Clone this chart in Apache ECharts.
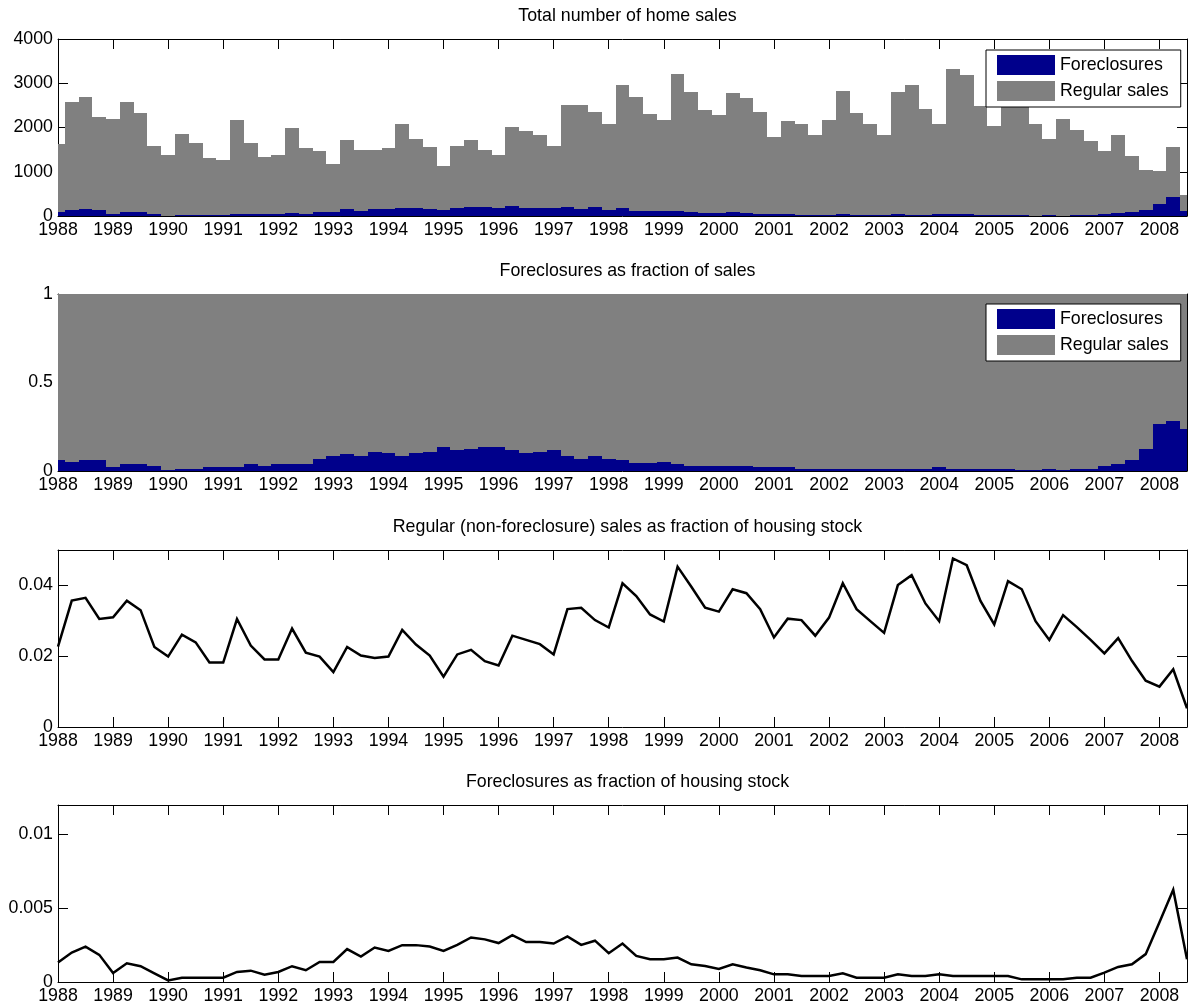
<!DOCTYPE html>
<html>
<head>
<meta charset="utf-8">
<script src="https://cdn.jsdelivr.net/npm/echarts@6/dist/echarts.min.js"></script>
<style>
html,body{margin:0;padding:0;background:#fff;}
#chart{width:1188px;height:1007px;}
</style>
</head>
<body>
<div id="chart"></div>
<script>
// ---------- DATA (quarterly, 1988Q1 .. 2008Q3) ----------
const quarters = [
  1988, 1988.25, 1988.5, 1988.75,
  1989, 1989.25, 1989.5, 1989.75,
  1990, 1990.25, 1990.5, 1990.75,
  1991, 1991.25, 1991.5, 1991.75,
  1992, 1992.25, 1992.5, 1992.75,
  1993, 1993.25, 1993.5, 1993.75,
  1994, 1994.25, 1994.5, 1994.75,
  1995, 1995.25, 1995.5, 1995.75,
  1996, 1996.25, 1996.5, 1996.75,
  1997, 1997.25, 1997.5, 1997.75,
  1998, 1998.25, 1998.5, 1998.75,
  1999, 1999.25, 1999.5, 1999.75,
  2000, 2000.25, 2000.5, 2000.75,
  2001, 2001.25, 2001.5, 2001.75,
  2002, 2002.25, 2002.5, 2002.75,
  2003, 2003.25, 2003.5, 2003.75,
  2004, 2004.25, 2004.5, 2004.75,
  2005, 2005.25, 2005.5, 2005.75,
  2006, 2006.25, 2006.5, 2006.75,
  2007, 2007.25, 2007.5, 2007.75,
  2008, 2008.25, 2008.5
];

const yearTicks = [1988,1989,1990,1991,1992,1993,1994,1995,1996,1997,1998,
                   1999,2000,2001,2002,2003,2004,2005,2006,2007,2008];

// Panel 1: number of sales
const foreclosures = [
  95,134,167,138,46,95,86,45,7,22,
  20,22,22,46,56,36,48,72,55,95,
  95,155,120,158,148,170,172,164,146,176,
  208,197,180,222,188,188,180,209,168,194,
  136,178,120,104,109,116,80,70,62,80,
  71,52,36,40,28,26,28,38,25,23,
  22,36,33,30,40,35,34,30,27,32,
  12,10,16,11,22,21,42,68,82,130,
  272,434,110
];
const regularSales = [
  1525,2446,2533,2092,2154,2485,2234,1545,1363,1828,
  1640,1288,1248,2124,1604,1304,1322,1908,1475,1365,
  1085,1565,1380,1342,1382,1900,1578,1396,994,1414,
  1512,1303,1190,1788,1722,1632,1410,2301,2342,2166,
  1934,2782,2560,2196,2061,3104,2730,2320,2228,2690,
  2599,2308,1744,2100,2062,1794,2142,2792,2295,2047,
  1818,2764,2917,2390,2030,3285,3146,2460,2003,2838,
  2688,2060,1714,2189,1918,1669,1418,1752,1278,915,
  748,1126,367
];

// Panel 2: foreclosures as fraction of sales
const foreclosureShare = [
  0.062,0.052,0.062,0.062,0.021,0.037,0.037,0.028,0.004,0.013,
  0.013,0.021,0.021,0.021,0.037,0.028,0.037,0.037,0.037,0.067,
  0.082,0.094,0.084,0.107,0.101,0.084,0.101,0.107,0.133,0.116,
  0.124,0.133,0.133,0.116,0.101,0.107,0.116,0.084,0.067,0.084,
  0.067,0.060,0.045,0.045,0.052,0.037,0.028,0.028,0.028,0.028,
  0.028,0.021,0.021,0.021,0.013,0.013,0.013,0.013,0.013,0.013,
  0.013,0.013,0.013,0.013,0.021,0.013,0.013,0.013,0.013,0.013,
  0.004,0.004,0.013,0.004,0.013,0.013,0.028,0.037,0.060,0.124,
  0.264,0.281,0.236
];
// the remaining share of sales (the two shares add up to 1)
const regularShare = foreclosureShare.map(f => +(1 - f).toFixed(3));

// Panel 3: regular sales as fraction of housing stock
const regularStockShare = [
  0.0227,0.0357,0.0365,0.0305,0.0310,0.0357,0.0330,0.0226,0.0199,0.0261,
  0.0239,0.0182,0.0182,0.0305,0.0230,0.0191,0.0191,0.0278,0.0210,0.0199,
  0.0155,0.0226,0.0202,0.0195,0.0199,0.0274,0.0233,0.0202,0.0142,0.0205,
  0.0218,0.0186,0.0174,0.0258,0.0246,0.0234,0.0205,0.0333,0.0337,0.0302,
  0.0281,0.0406,0.0370,0.0318,0.0298,0.0453,0.0396,0.0337,0.0326,0.0389,
  0.0378,0.0333,0.0253,0.0306,0.0302,0.0258,0.0309,0.0406,0.0333,0.0299,
  0.0266,0.0401,0.0429,0.0349,0.0299,0.0476,0.0457,0.0356,0.0290,0.0412,
  0.0389,0.0299,0.0246,0.0316,0.0282,0.0246,0.0208,0.0251,0.0187,0.0131,
  0.0114,0.0163,0.0053
];

// Panel 4: foreclosures as fraction of housing stock
const foreclosureStockShare = [
  0.00132,0.00200,0.00240,0.00184,0.00061,0.00127,0.00107,0.00059,0.00011,0.00029,
  0.00029,0.00029,0.00029,0.00068,0.00077,0.00050,0.00068,0.00107,0.00080,0.00136,
  0.00136,0.00223,0.00173,0.00234,0.00211,0.00250,0.00250,0.00240,0.00211,0.00252,
  0.00302,0.00289,0.00264,0.00318,0.00271,0.00271,0.00261,0.00309,0.00252,0.00280,
  0.00195,0.00261,0.00177,0.00155,0.00155,0.00166,0.00120,0.00109,0.00089,0.00120,
  0.00098,0.00080,0.00052,0.00052,0.00041,0.00041,0.00041,0.00059,0.00029,0.00029,
  0.00029,0.00052,0.00041,0.00041,0.00052,0.00041,0.00041,0.00041,0.00041,0.00041,
  0.00018,0.00018,0.00018,0.00018,0.00029,0.00029,0.00064,0.00102,0.00120,0.00189,
  0.00405,0.00625,0.00155
];

const titles = [
  'Total number of home sales',
  'Foreclosures as fraction of sales',
  'Regular (non-foreclosure) sales as fraction of housing stock',
  'Foreclosures as fraction of housing stock'
];
const yTicks = [
  [0, 1000, 2000, 3000, 4000],
  [0, 0.5, 1],
  [0, 0.02, 0.04],
  [0, 0.005, 0.01]
];
const yMax = [4000, 1, 0.05, 0.012];
const seriesNames = ['Foreclosures', 'Regular sales'];

// ---------- LAYOUT / STYLE ----------
const FONT = '"Liberation Sans", Arial, Helvetica, sans-serif';
const FS = 17.8;
const BLUE = '#00008b';
const GREY = '#808080';
const GRID_LEFT = 58;
const GRID_RIGHT = 1;
const GRID_H = 177;
const gridTops = [39, 294, 550, 805];
const xMin = quarters[0], xMax = quarters[quarters.length - 1];
const HALF_STEP = (quarters[1] - quarters[0]) / 2;   // bars span one quarter

const fmt = v => String(parseFloat(Number(v).toFixed(6)));
const pairs = arr => quarters.map((q, i) => [q, arr[i]]);
// stacked segments: [x, bottom, top]
const segments = (lower, upper) => quarters.map((q, i) => {
  const base = lower ? lower[i] : 0;
  return [q, base, base + upper[i]];
});

const grids = [], xAxes = [], yAxes = [], titleOpts = [];
gridTops.forEach((top, g) => {
  grids.push({left: GRID_LEFT, right: GRID_RIGHT, top: top, height: GRID_H, containLabel: false});
  const tick = {show: true, inside: true, length: 10, lineStyle: {color: '#000', width: 1}};
  const line = {show: true, onZero: false, lineStyle: {color: '#000', width: 1}};
  const xStep = yearTicks[1] - yearTicks[0];
  ['bottom', 'top'].forEach(pos => {
    xAxes.push({
      type: 'value', gridIndex: g, position: pos,
      min: xMin, max: xMax, interval: xStep,
      axisLine: line, axisTick: tick, splitLine: {show: false},
      axisLabel: {
        show: pos === 'bottom', margin: 5, color: '#000', fontSize: FS, fontFamily: FONT,
        showMinLabel: true, showMaxLabel: false, formatter: v => fmt(v)
      }
    });
  });
  const yStep = yTicks[g][1] - yTicks[g][0];
  ['left', 'right'].forEach(pos => {
    yAxes.push({
      type: 'value', gridIndex: g, position: pos,
      min: 0, max: yMax[g], interval: yStep,
      axisLine: line, axisTick: tick, splitLine: {show: false},
      axisLabel: {
        show: pos === 'left', margin: 5, color: '#000', fontSize: FS, fontFamily: FONT,
        showMaxLabel: yTicks[g][yTicks[g].length - 1] === yMax[g],
        formatter: v => fmt(v)
      }
    });
  });
  titleOpts.push({
    text: titles[g], left: (GRID_LEFT + 1188 - GRID_RIGHT) / 2, top: top - 37,
    textAlign: 'center',
    textStyle: {fontSize: FS, fontWeight: 'normal', color: '#000', fontFamily: FONT}
  });
});

// bar drawn through the axes' scales (api.coord), clipped to the plot area
function barRenderer(color) {
  return function (params, api) {
    const x = api.value(0), lo = api.value(1), hi = api.value(2);
    const a = api.coord([x - HALF_STEP, hi]);
    const b = api.coord([x + HALF_STEP, lo]);
    const x0 = Math.round(a[0]), x1 = Math.round(b[0]);
    const y0 = Math.round(a[1]), y1 = Math.round(b[1]);
    const cs = params.coordSys;
    const shape = echarts.graphic.clipRectByRect(
      {x: x0, y: y0, width: x1 - x0, height: y1 - y0},
      {x: cs.x, y: cs.y, width: cs.width, height: cs.height}
    );
    if (!shape || shape.height <= 0 || shape.width <= 0) return null;
    return {type: 'rect', shape: shape, style: {fill: color}};
  };
}
const barSeries = (name, data, g, color) => ({
  type: 'custom', name: name, xAxisIndex: 2 * g, yAxisIndex: 2 * g,
  data: data, encode: {x: 0, y: [1, 2]},
  renderItem: barRenderer(color),
  itemStyle: {color: color},
  emphasis: {disabled: true}, animation: false, silent: true
});
const lineSeries = (name, data, g) => ({
  type: 'line', name: name, xAxisIndex: 2 * g, yAxisIndex: 2 * g,
  data: pairs(data), symbol: 'none', clip: true,
  lineStyle: {color: '#000', width: 2.5, join: 'miter'}, itemStyle: {color: '#000'},
  emphasis: {disabled: true}, animation: false, silent: true
});

const legendOpt = top => ({
  data: seriesNames, orient: 'vertical', left: 986, top: top,
  itemWidth: 58, itemHeight: 20, itemGap: 6, icon: 'rect',
  padding: [5, 12, 6, 11], backgroundColor: '#fff', borderColor: '#000', borderWidth: 1,
  borderRadius: 0, selectedMode: false,
  textStyle: {fontSize: FS, color: '#000', fontFamily: FONT}
});

const option = {
  backgroundColor: '#fff',
  animation: false,
  title: titleOpts,
  grid: grids,
  xAxis: xAxes,
  yAxis: yAxes,
  legend: [legendOpt(gridTops[0] + 11), legendOpt(gridTops[1] + 10)],
  series: [
    barSeries(seriesNames[0], segments(null, foreclosures), 0, BLUE),
    barSeries(seriesNames[1], segments(foreclosures, regularSales), 0, GREY),
    barSeries(seriesNames[0], segments(null, foreclosureShare), 1, BLUE),
    barSeries(seriesNames[1], segments(foreclosureShare, regularShare), 1, GREY),
    lineSeries('Regular sales / housing stock', regularStockShare, 2),
    lineSeries('Foreclosures / housing stock', foreclosureStockShare, 3)
  ]
};

const chart = echarts.init(document.getElementById('chart'), null, {renderer: 'canvas'});
chart.setOption(option);
</script>
</body>
</html>
